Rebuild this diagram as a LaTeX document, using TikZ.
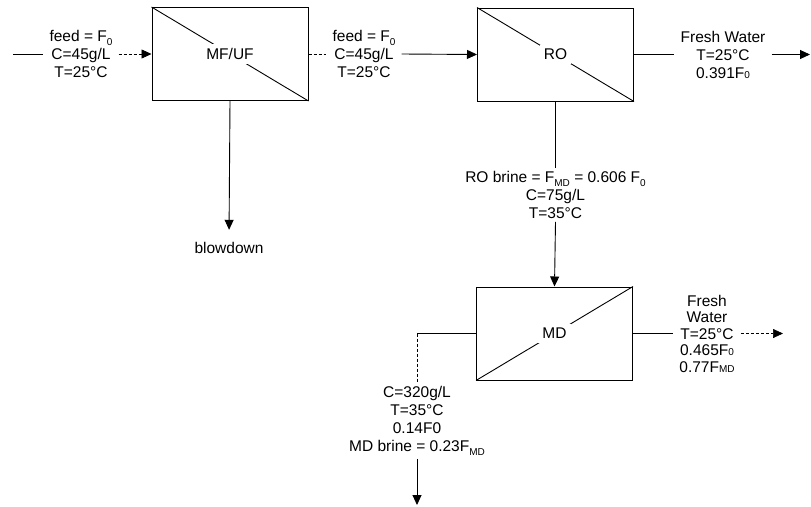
\documentclass[tikz,border=0pt]{standalone}
\usepackage{fontspec}
\setmainfont{Liberation Sans}
\usetikzlibrary{arrows.meta}

\newcommand\lowsub[1]{\raisebox{-0.5ex}{\fontsize{10}{10}\selectfont #1}}
\newcommand\smallsub[1]{{\fontsize{10}{10}\selectfont #1}}

\tikzset{
  unit/.style={draw, line width=1pt, minimum width=156pt, minimum height=93pt, inner sep=0pt},
  unitlbl/.style={fill=white, inner sep=4pt},
  stream/.style={align=center, inner xsep=6pt, inner ysep=3pt},
  flow/.style={line width=0.9pt},
  tip/.style={-{Triangle[length=10pt,width=9pt]}},
  flowarr/.style={flow, tip},
  dashflow/.style={line width=0.7pt, densely dashed}
}

\begin{document}
\begin{tikzpicture}[x=1pt, y=-1pt, font=\fontsize{15.5}{18}\selectfont]
\useasboundingbox (0,0) rectangle (811,506);

% membrane units
\node[unit] (mfuf) at (230,54) {};
\node[unit] (ro)   at (555.5,54.5) {};
\node[unit] (md)   at (554.5,333.5) {};

\draw[flow] (mfuf.north west) -- (mfuf.south east);
\draw[flow] (ro.north west) -- (ro.south east);
\draw[flow] (md.south west) -- (md.north east);

\node[unitlbl] (mfuflbl) at (mfuf.center) {MF/UF};
\node[unitlbl] (rolbl)   at (ro.center) {RO};
\node[unitlbl] (mdlbl)   at (md.center) {MD};

% feed into MF/UF
\coordinate (feedsrc) at (13,54);
\node[stream] (feed0) at (81,54) {feed = F\lowsub{0}\\C=45g/L\\T=25°C};
\draw[flow] (feedsrc) -- (feed0.west);
\draw[dashflow, tip] (feed0.east) -- (mfuf.west);

% MF/UF to RO
\node[stream] (feed1) at (364,54) {feed = F\lowsub{0}\\C=45g/L\\T=25°C};
\draw[dashflow] (mfuf.east) -- (feed1.west);
\draw[flowarr] (feed1.east) -- (ro.west);

% blowdown
\node (blow) at (229,248) {blowdown};
\draw[flowarr, shorten >=9pt] (mfuf.south) -- (blow.north);

% RO permeate
\node[stream] (fw1) at (723,54.5) {Fresh Water\\T=25°C\\0.391F\smallsub{0}};
\coordinate (fw1end) at (810,54.5);
\draw[flow] (ro.east) -- (fw1.west);
\draw[flowarr] (fw1.east) -- (fw1end);

% RO brine to MD
\node[stream] (brine1) at (555.5,195) {RO brine = F\lowsub{MD} = 0.606 F\lowsub{0}\\C=75g/L\\T=35°C};
\draw[flow] (ro.south) -- (brine1.north);
\draw[flowarr] (brine1.south) -- (md.north);

% MD permeate
\node[stream, font=\fontsize{15.5}{16.5}\selectfont] (fw2) at (707,333.5)
  {Fresh\\Water\\T=25°C\\0.465F\smallsub{0}\\0.77F\smallsub{MD}};
\coordinate (fw2end) at (783,333.5);
\draw[flow] (md.east) -- (fw2.west);
\draw[dashflow, tip] (fw2.east) -- (fw2end);

% MD brine
\coordinate (mdbend) at (417,333.5);
\node[stream] (brine2) at (417,421) {C=320g/L\\T=35°C\\0.14F0\\MD brine = 0.23F\lowsub{MD}};
\coordinate (brine2end) at (417,505);
\draw[flow] (md.west) -- (mdbend);
\draw[dashflow] (mdbend) -- (brine2.north);
\draw[flowarr] (brine2.south) -- (brine2end);
\end{tikzpicture}
\end{document}
